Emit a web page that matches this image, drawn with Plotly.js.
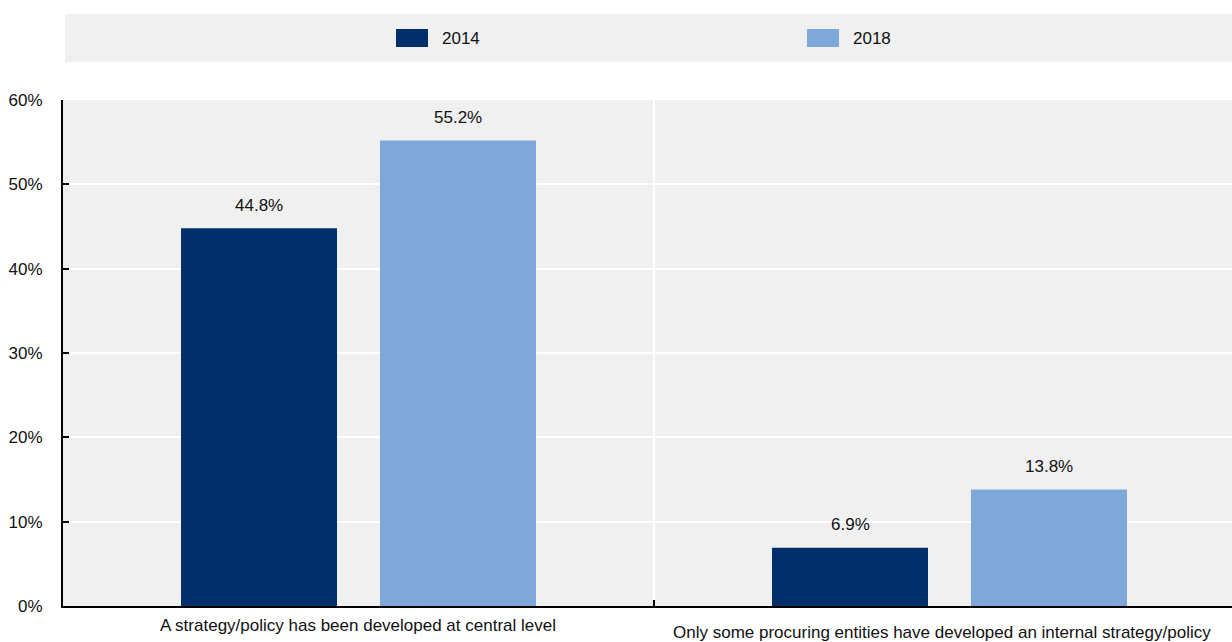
<!DOCTYPE html>
<html>
<head>
<meta charset="utf-8">
<script src="https://cdn.plot.ly/plotly-3.0.1.min.js"></script>
<style>
  html, body { margin: 0; padding: 0; background: #ffffff; overflow: hidden; }
  #chart { width: 1232px; height: 642px; }
</style>
</head>
<body>
<div id="chart"></div>
<script>
// ---- data ----
const categories = [
  'A strategy/policy has been developed at central level',
  'Only some procuring entities have developed an internal strategy/policy'
];
const seriesNames = ['2014', '2018'];
const values2014 = [44.8, 6.9];
const values2018 = [55.2, 13.8];
const seriesValues = [values2014, values2018];
const seriesColors = ['#002f6c', '#7fa7d9'];
const yTickValues = [0, 10, 20, 30, 40, 50, 60];

// ---- layout helpers ----
const W = 1232, H = 642;
const M = { l: 63, r: 0, t: 100, b: 36 };
const plotW = W - M.l - M.r, plotH = H - M.t - M.b;
const px2x = p => (p - M.l) / plotW;
const px2y = p => (H - M.b - p) / plotH;
const FONT = '"Liberation Sans Narrow", "Arial Narrow", "Liberation Sans", Arial, sans-serif';
const TXT = '#111111';
const FS = 17;

const xIdx = categories.map((_, i) => i);

const traces = seriesNames.map((name, s) => ({
  type: 'bar',
  name: name,
  x: xIdx,
  y: seriesValues[s],
  marker: { color: seriesColors[s], line: { width: 0 } },
  hoverinfo: 'skip',
  showlegend: false
}));

const annotations = [];
const shapes = [];

// legend background
shapes.push({
  type: 'rect', xref: 'paper', yref: 'paper',
  x0: px2x(65), x1: px2x(1232), y0: px2y(62), y1: px2y(14),
  fillcolor: '#f0f0f0', line: { width: 0 }, layer: 'below'
});
// legend items
const legendSwatchX = [396, 807];
seriesNames.forEach((name, s) => {
  const sx = legendSwatchX[s];
  shapes.push({
    type: 'rect', xref: 'paper', yref: 'paper',
    x0: px2x(sx), x1: px2x(sx + 32), y0: px2y(47), y1: px2y(29),
    fillcolor: seriesColors[s], line: { width: 0 }
  });
  annotations.push({
    xref: 'paper', yref: 'paper', x: px2x(sx + 44), y: px2y(38.5),
    xanchor: 'left', yanchor: 'middle', showarrow: false,
    text: name, font: { family: FONT, size: FS, color: TXT }
  });
});

// value labels
const barOffsetPx = [-99.5, 99.5];
seriesNames.forEach((name, s) => {
  seriesValues[s].forEach((v, i) => {
    annotations.push({
      xref: 'x', yref: 'y', x: xIdx[i], y: v,
      xshift: barOffsetPx[s], yshift: 23,
      xanchor: 'center', yanchor: 'middle', showarrow: false,
      text: v.toFixed(1) + '%',
      font: { family: FONT, size: FS, color: TXT }
    });
  });
});

// category labels
const catLabelShift = [{ x: -1, y: -19 }, { x: -8, y: -26 }];
categories.forEach((c, i) => {
  annotations.push({
    xref: 'x', yref: 'paper', x: xIdx[i], y: 0,
    xshift: catLabelShift[i].x, yshift: catLabelShift[i].y,
    xanchor: 'center', yanchor: 'middle', showarrow: false,
    text: c, font: { family: FONT, size: FS, color: TXT }
  });
});

const layout = {
  width: W, height: H,
  margin: M,
  paper_bgcolor: '#ffffff',
  plot_bgcolor: '#f0f0f0',
  barmode: 'group',
  bargap: 0.3266,
  bargroupgap: 0.216,
  font: { family: FONT, size: FS, color: TXT },
  showlegend: false,
  xaxis: {
    range: [-0.5, -0.5 + plotW / 591],
    tickmode: 'array',
    tickvals: [0.5],
    showticklabels: false,
    ticks: 'inside', ticklen: 6, tickwidth: 2, tickcolor: '#000000',
    showgrid: true, gridcolor: '#ffffff', gridwidth: 2,
    showline: true, linecolor: '#000000', linewidth: 2,
    zeroline: false, fixedrange: true
  },
  yaxis: {
    range: [0, 60],
    tickmode: 'array',
    tickvals: yTickValues,
    ticktext: yTickValues.map(v => v + '%'),
    ticks: 'inside', ticklen: 6, tickwidth: 2, tickcolor: '#000000',
    ticklabelstandoff: 15,
    tickfont: { family: FONT, size: FS, color: TXT },
    showgrid: true, gridcolor: '#ffffff', gridwidth: 2,
    showline: true, linecolor: '#000000', linewidth: 2,
    zeroline: false, fixedrange: true
  },
  shapes: shapes,
  annotations: annotations
};

Plotly.newPlot('chart', traces, layout, { displayModeBar: false, staticPlot: true });
</script>
</body>
</html>
